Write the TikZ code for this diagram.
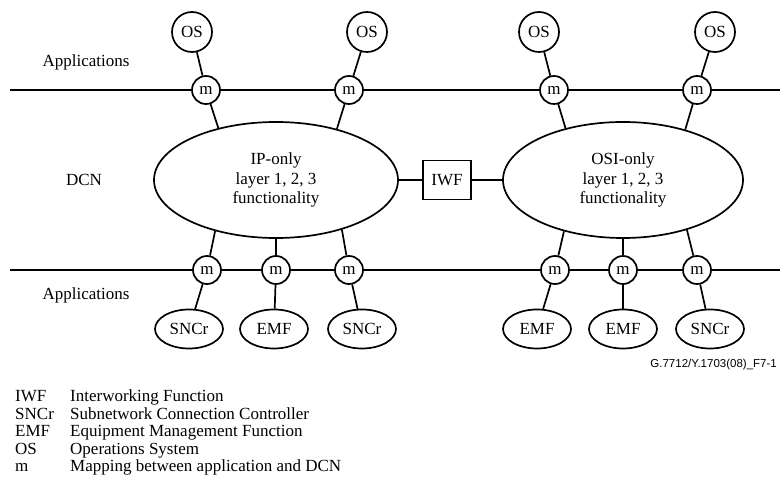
\documentclass[tikz,border=0pt]{standalone}
\usepackage{fontspec}
\setmainfont{Liberation Serif}
\newfontfamily\footfont{Liberation Sans}
\usetikzlibrary{shapes.geometric}
\begin{document}
\begin{tikzpicture}[x=1pt,y=-1pt,
  every node/.style={font=\fontsize{17}{19.5}\selectfont},
  ln/.style={line width=1.7pt},
  osnode/.style={circle,draw,line width=1.7pt,minimum size=40pt,inner sep=0pt,fill=white},
  mnode/.style={circle,draw,line width=1.7pt,minimum size=28pt,inner sep=0pt,fill=white},
  dcn/.style={ellipse,draw,line width=1.7pt,minimum width=244pt,minimum height=116pt,inner sep=0pt,align=center},
  app/.style={ellipse,draw,line width=1.7pt,minimum width=68pt,minimum height=39pt,inner sep=0pt},
  iwfbox/.style={rectangle,draw,line width=1.7pt,minimum width=48pt,minimum height=39pt,inner sep=0pt},
  lab/.style={anchor=base west,inner sep=0pt}]
\useasboundingbox (0,0) rectangle (780,486);

% labels
\node (appt) at (86,62) {Applications};
\node (dcnl) at (84,180) {DCN};
\node (appb) at (86,295) {Applications};

% DCN ellipses and IWF
\node[dcn] (ip) at (276,180) {IP-only\\layer 1, 2, 3\\functionality};
\node[dcn,minimum width=240pt] (osi) at (623,180) {OSI-only\\layer 1, 2, 3\\functionality};
\node[iwfbox] (iwf) at (447,180) {IWF};
\draw[ln] (ip) -- (iwf) -- (osi);

% top row
\node[osnode] (os1) at (192,32) {OS};
\node[osnode] (os2) at (367,32) {OS};
\node[osnode] (os3) at (539,32) {OS};
\node[osnode] (os4) at (715,32) {OS};
\node[mnode] (t1) at (206,90) {m};
\node[mnode] (t2) at (349,90) {m};
\node[mnode] (t3) at (554,90) {m};
\node[mnode] (t4) at (697,90) {m};
\coordinate (tl) at (10,90);
\coordinate (tr) at (780,90);
\draw[ln] (tl) -- (t1) -- (t2) -- (t3) -- (t4) -- (tr);
\draw[ln] (os1) -- (t1) -- (ip.138.6);
\draw[ln] (os2) -- (t2) -- (ip.40);
\draw[ln] (os3) -- (t3) -- (osi.138);
\draw[ln] (os4) -- (t4) -- (osi.39);

% bottom row
\node[mnode] (b1) at (207,270) {m};
\node[mnode] (b2) at (276,270) {m};
\node[mnode] (b3) at (349,270) {m};
\node[mnode] (b4) at (555,270) {m};
\node[mnode] (b5) at (623,270) {m};
\node[mnode] (b6) at (697,270) {m};
\coordinate (bl) at (10,270);
\coordinate (br) at (780,270);
\draw[ln] (bl) -- (b1) -- (b2) -- (b3) -- (b4) -- (b5) -- (b6) -- (br);
\draw[ln] (ip.220.8) -- (b1);
\draw[ln] (ip.270) -- (b2);
\draw[ln] (ip.-37) -- (b3);
\draw[ln] (osi.221) -- (b4);
\draw[ln] (osi.270) -- (b5);
\draw[ln] (osi.-38) -- (b6);

\node[app] (e1) at (189,329) {SNCr};
\node[app] (e2) at (274,329) {EMF};
\node[app] (e3) at (362,329) {SNCr};
\node[app] (e4) at (537,329) {EMF};
\node[app] (e5) at (623,329) {EMF};
\node[app] (e6) at (710,329) {SNCr};
\draw[ln] (b1) -- (e1);
\draw[ln] (b2) -- (e2);
\draw[ln] (b3) -- (e3);
\draw[ln] (b4) -- (e4);
\draw[ln] (b5) -- (e5);
\draw[ln] (b6) -- (e6);

% figure id
\node[anchor=east,inner sep=0pt,font=\footfont\fontsize{11.5}{13}\selectfont] (fid) at (777,365) {G.7712/Y.1703(08)\_F7-1};

% legend
\node[lab] (k1) at (15,402) {IWF};
\node[lab] (d1) at (70,402) {Interworking Function};
\node[lab] (k2) at (15,419.5) {SNCr};
\node[lab] (d2) at (70,419.5) {Subnetwork Connection Controller};
\node[lab] (k3) at (15,437) {EMF};
\node[lab] (d3) at (70,437) {Equipment Management Function};
\node[lab] (k4) at (15,454.5) {OS};
\node[lab] (d4) at (70,454.5) {Operations System};
\node[lab] (k5) at (15,472) {m};
\node[lab] (d5) at (70,472) {Mapping between application and DCN};
\end{tikzpicture}
\end{document}
